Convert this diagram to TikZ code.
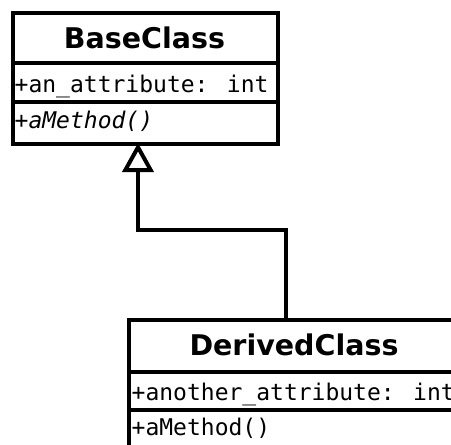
\documentclass[tikz,border=0pt]{standalone}
\usepackage{fontspec}
\setmainfont{DejaVu Sans}
\newfontfamily\umlmono{DejaVu Sans Mono}
\usetikzlibrary{arrows.meta}
\tikzset{
  x=1pt, y=-1pt,
  umlbox/.style={draw, line width=4pt, inner sep=0pt, anchor=north west, fill=white},
  sepline/.style={line width=4pt},
  title/.style={anchor=base, inner sep=0pt, font=\bfseries\fontsize{28.5}{28.5}\selectfont},
  member/.style={anchor=base west, inner sep=0pt, font=\umlmono\fontsize{23}{23}\selectfont},
  inh/.style={line width=4pt, -{Triangle[open, length=29pt, width=31pt]}},
}
\begin{document}
\begin{tikzpicture}
\useasboundingbox (0,0) rectangle (451,445);
\clip (0,0) rectangle (451,445);
% BaseClass
\node[umlbox, minimum width=265pt, minimum height=130.5pt] (base) at (11,11) {};
\draw[sepline] (11,63) -- (276,63);
\draw[sepline] (11,102) -- (276,102);
\node[title] (baset) at (144.5,48) {BaseClass};
\node[member] (basea) at (14.5,92) {+an\_attribute: int};
\node[member] (basem) at (14.5,128) {\itshape +aMethod()};
% DerivedClass
\node[umlbox, minimum width=340pt, minimum height=160pt] (derived) at (127,318) {};
\draw[sepline] (127,372) -- (470,372);
\draw[sepline] (127,410) -- (470,410);
\node[title] (derivedt) at (294,355) {DerivedClass};
\node[member] (deriveda) at (131.5,400) {+another\_attribute: int};
\node[member] (derivedm) at (131.5,435) {+aMethod()};
% inheritance
\coordinate (d) at (286,318);
\coordinate (b) at (138,143);
\draw[inh] (d) -- (286,230) -| (b);
\end{tikzpicture}
\end{document}
